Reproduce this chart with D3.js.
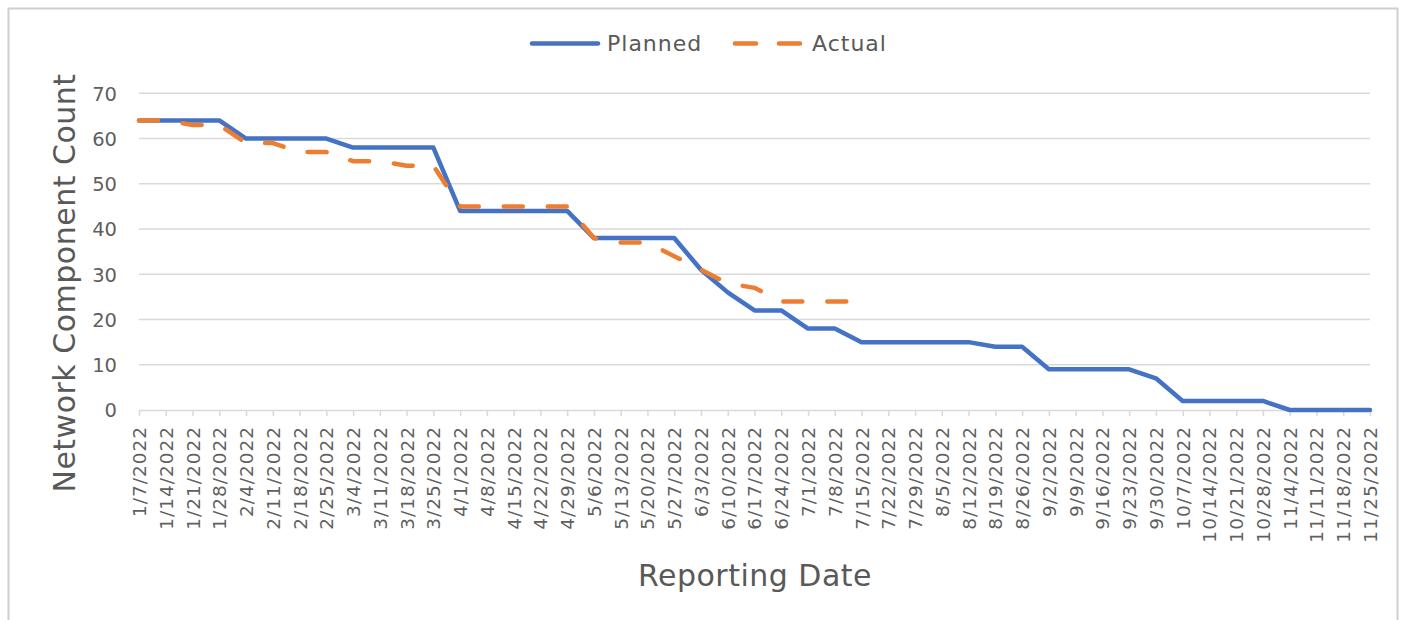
<!DOCTYPE html>
<html>
<head>
<meta charset="utf-8">
<script src="https://cdn.jsdelivr.net/npm/d3@7"></script>
<style>
  html, body { margin: 0; padding: 0; background: #fff; }
  svg { display: block; }
  text { font-family: "DejaVu Sans", "Noto Sans", sans-serif; fill: #595959; }
</style>
</head>
<body>
<svg id="chart" width="1407" height="620"></svg>
<script>
const dates = ["1/7/2022","1/14/2022","1/21/2022","1/28/2022","2/4/2022","2/11/2022","2/18/2022","2/25/2022",
  "3/4/2022","3/11/2022","3/18/2022","3/25/2022","4/1/2022","4/8/2022","4/15/2022","4/22/2022","4/29/2022",
  "5/6/2022","5/13/2022","5/20/2022","5/27/2022","6/3/2022","6/10/2022","6/17/2022","6/24/2022",
  "7/1/2022","7/8/2022","7/15/2022","7/22/2022","7/29/2022","8/5/2022","8/12/2022","8/19/2022","8/26/2022",
  "9/2/2022","9/9/2022","9/16/2022","9/23/2022","9/30/2022","10/7/2022","10/14/2022","10/21/2022","10/28/2022",
  "11/4/2022","11/11/2022","11/18/2022","11/25/2022"];
const planned = [64,64,64,64,60,60,60,60,58,58,58,58,44,44,44,44,44,38,38,38,38,31,26,22,22,
  18,18,15,15,15,15,15,14,14,9,9,9,9,7,2,2,2,2,0,0,0,0];
const actual = [64,64,63,63,59,59,57,57,55,55,54,54,45,45,45,45,45,38,37,37,34,31,28,27,24,24,24,24];
const yTicks = [0,10,20,30,40,50,60,70];
const seriesNames = ["Planned","Actual"];
const colors = ["#4472C4","#ED7D31"];

const svg = d3.select("#chart");

// outer border
svg.append("rect").attr("x", 8.5).attr("y", 8.5).attr("width", 1389).attr("height", 640)
  .attr("fill", "none").attr("stroke", "#d0d0d0").attr("stroke-width", 2);

const x = d3.scalePoint().domain(dates).range([139, 1370]);
const y = d3.scaleLinear().domain([0, 70]).range([410, 93.3]);

// gridlines
svg.append("g").selectAll("line").data(yTicks.filter(t => t > 0)).join("line")
  .attr("x1", 139).attr("x2", 1370)
  .attr("y1", d => y(d)).attr("y2", d => y(d))
  .attr("stroke", "#d9d9d9").attr("stroke-width", 1.5);

// y axis labels
const yAxis = d3.axisLeft(y).tickValues(yTicks).tickSize(0).tickPadding(0);
const gy = svg.append("g").attr("transform", "translate(117,0)").call(yAxis);
gy.select(".domain").remove();
gy.selectAll("text").attr("font-size", 19.5).style("fill", "#5f5f5f")
  .style("font-family", '"DejaVu Sans", sans-serif').attr("dy", "0.35em");

// x axis
const xAxis = d3.axisBottom(x).tickSize(6).tickSizeOuter(0).tickPadding(0);
const gx = svg.append("g").attr("transform", "translate(0,410)").call(xAxis);
gx.select(".domain").attr("stroke", "#d9d9d9").attr("stroke-width", 1.5);
gx.selectAll(".tick line").attr("stroke", "#d9d9d9").attr("stroke-width", 1.5);
gx.selectAll("text")
  .attr("font-size", 18.5)
  .style("fill", "#5f5f5f")
  .style("font-family", '"DejaVu Sans", sans-serif')
  .attr("text-anchor", "end")
  .attr("transform", "translate(0,16) rotate(-90)")
  .attr("x", 0).attr("y", 0).attr("dy", "0.35em")
  .attr("letter-spacing", 1);

// lines
const line = d3.line().x((d, i) => x(dates[i])).y(d => y(d));
svg.append("path").datum(planned).attr("d", line)
  .attr("fill", "none").attr("stroke", colors[0]).attr("stroke-width", 4.5)
  .attr("stroke-linejoin", "round").attr("stroke-linecap", "round");
svg.append("path").datum(actual).attr("d", line)
  .attr("fill", "none").attr("stroke", colors[1]).attr("stroke-width", 4.5)
  .attr("stroke-dasharray", "19 25").attr("stroke-linejoin", "round").attr("stroke-linecap", "round");

// axis titles
svg.append("text").attr("x", 755).attr("y", 586).attr("text-anchor", "middle")
  .attr("font-size", 30).attr("letter-spacing", 0.5).text("Reporting Date");
svg.append("text").attr("transform", "translate(75,283) rotate(-90)").attr("text-anchor", "middle")
  .attr("font-size", 30).attr("letter-spacing", 0.5).text("Network Component Count");

// legend
const lg = svg.append("g");
lg.append("line").attr("x1", 532).attr("x2", 598).attr("y1", 43.5).attr("y2", 43.5)
  .attr("stroke", colors[0]).attr("stroke-width", 4.5).attr("stroke-linecap", "round");
lg.append("text").attr("x", 607).attr("y", 43.5).attr("dy", "0.35em").attr("font-size", 22)
  .attr("letter-spacing", 1).text(seriesNames[0]);
lg.append("line").attr("x1", 735).attr("x2", 801).attr("y1", 43.5).attr("y2", 43.5)
  .attr("stroke", colors[1]).attr("stroke-width", 4.5).attr("stroke-linecap", "round")
  .attr("stroke-dasharray", "21 23");
lg.append("text").attr("x", 812).attr("y", 43.5).attr("dy", "0.35em").attr("font-size", 22)
  .attr("letter-spacing", 1).text(seriesNames[1]);
</script>
</body>
</html>
